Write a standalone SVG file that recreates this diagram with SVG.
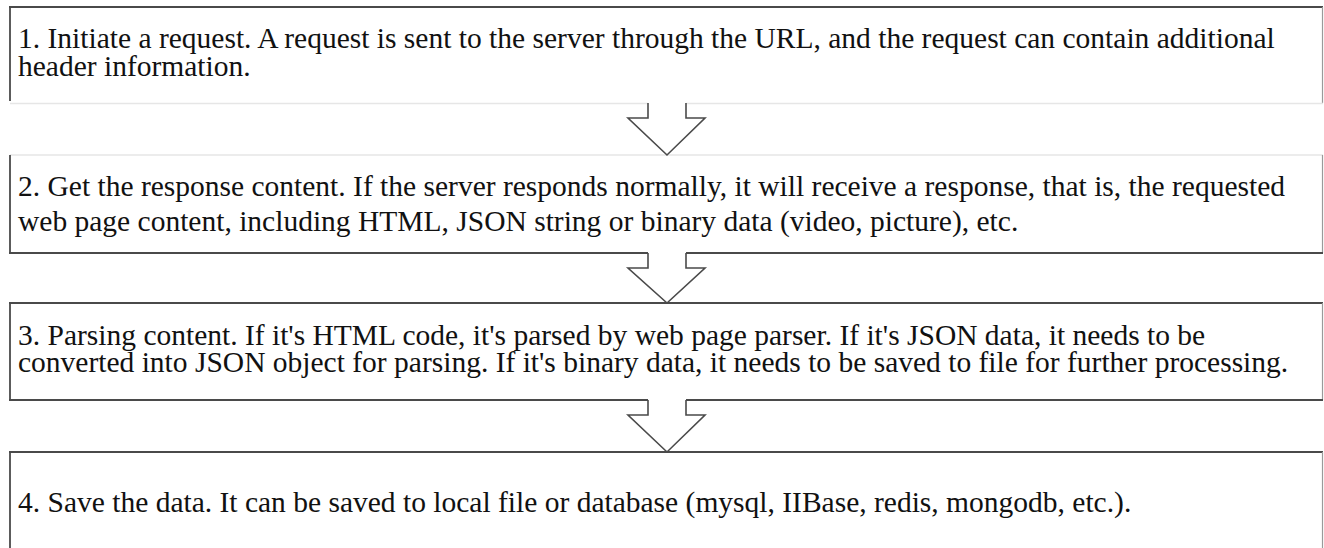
<svg xmlns="http://www.w3.org/2000/svg" width="1324" height="548" viewBox="0 0 1324 548">
<style>
.t{font-family:"Liberation Serif","Times New Roman",serif;font-size:29.5px;fill:#111}
.edge{fill:none;stroke:#4a4a4a;stroke-width:1.8}
.lite{fill:none;stroke:#9a9a9a;stroke-width:1.2}
.faint{fill:none;stroke:#e6e6e6;stroke-width:1.5}
.arw{fill:#fff;stroke:none}
.arl{fill:none;stroke:#4a4a4a;stroke-width:1.6;stroke-linejoin:miter}
</style>
<rect width="1324" height="548" fill="#fff"/>
<g id="node1">
<line class="edge" x1="9" y1="7" x2="1323" y2="7"/>
<line class="edge" x1="10" y1="6" x2="10" y2="101"/>
<line class="lite" x1="1322.5" y1="7" x2="1322.5" y2="103"/>
<line class="faint" x1="10" y1="103.5" x2="1323" y2="103.5"/>
<text class="t" x="18" y="48">1. Initiate a request. A request is sent to the server through the URL, and the request can contain additional<tspan x="18" dy="28">header information.</tspan></text>
</g>
<g id="node2">
<line class="faint" x1="10" y1="155" x2="1323" y2="155"/>
<line class="edge" x1="10" y1="155" x2="10" y2="253"/>
<line class="lite" x1="1322.5" y1="155" x2="1322.5" y2="253"/>
<line class="edge" x1="9" y1="253" x2="1323" y2="253"/>
<text class="t" x="18" y="196">2. Get the response content. If the server responds normally, it will receive a response, that is, the requested<tspan x="18" dy="35">web page content, including HTML, JSON string or binary data (video, picture), etc.</tspan></text>
</g>
<g id="node3">
<line class="edge" x1="9" y1="303" x2="1323" y2="303"/>
<line class="edge" x1="10" y1="303" x2="10" y2="400"/>
<line class="lite" x1="1322.5" y1="303" x2="1322.5" y2="400"/>
<line class="edge" x1="9" y1="400" x2="1323" y2="400"/>
<text class="t" x="18" y="345">3. Parsing content. If it's HTML code, it's parsed by web page parser. If it's JSON data, it needs to be<tspan x="18" dy="27">converted into JSON object for parsing. If it's binary data, it needs to be saved to file for further processing.</tspan></text>
</g>
<g id="node4">
<line class="edge" x1="9" y1="452" x2="1323" y2="452"/>
<line class="edge" x1="10" y1="452" x2="10" y2="548"/>
<line class="lite" x1="1322.5" y1="452" x2="1322.5" y2="548"/>
<text class="t" x="18" y="512">4. Save the data. It can be saved to local file or database (mysql, IIBase, redis, mongodb, etc.).</text>
</g>
<g id="connectors">
<polygon class="arw" points="648,102 648,118 628,118 667,155 705,118 686,118 686,102"/>
<polyline class="arl" points="648,103 648,118 628,118 667,155 705,118 686,118 686,103"/>
<polygon class="arw" points="648,252 648,268 628,268 667,303 705,268 686,268 686,252"/>
<polyline class="arl" points="648,253 648,268 628,268 667,303 705,268 686,268 686,253"/>
<polygon class="arw" points="648,399 648,415 628,415 667,452 705,415 686,415 686,399"/>
<polyline class="arl" points="648,400 648,415 628,415 667,452 705,415 686,415 686,400"/>
</g>
</svg>
